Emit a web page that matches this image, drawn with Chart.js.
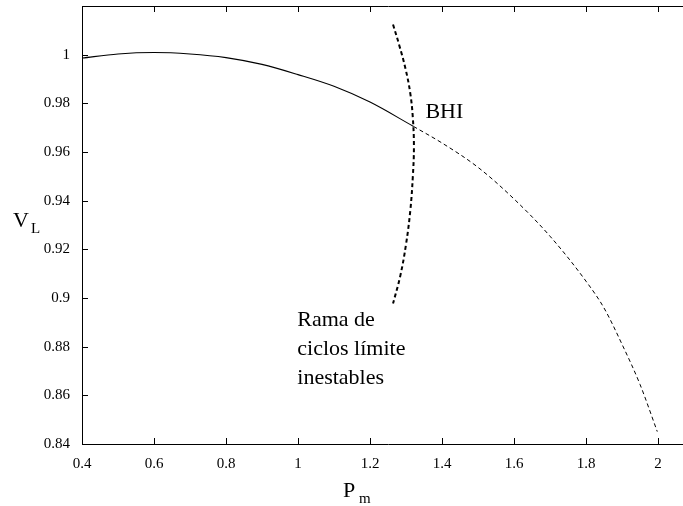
<!DOCTYPE html>
<html>
<head>
<meta charset="utf-8">
<script src="https://cdn.jsdelivr.net/npm/chart.js@4"></script>
<style>
  html, body { margin: 0; padding: 0; background: #fff; overflow: hidden; }
  #wrap { width: 683px; height: 506px; overflow: hidden; }
</style>
</head>
<body>
<div id="wrap"><canvas id="myChart" width="700" height="506"></canvas></div>
<script>
// stable branch (solid), up to the Hopf point
const stableP = [0.4, 0.5, 0.6, 0.7, 0.8, 0.9, 1.0, 1.1, 1.2, 1.321];
const stableV = [0.9986, 1.0003, 1.0009, 1.0003, 0.9988, 0.996, 0.9918, 0.987, 0.9805, 0.9705];
// unstable branch (thin dashed) after BHI
const unstableP = [1.321, 1.4, 1.5, 1.6, 1.7, 1.8, 1.85, 1.9, 1.95, 1.998];
const unstableV = [0.9705, 0.9637, 0.9537, 0.9407, 0.9254, 0.9069, 0.8959, 0.881, 0.8645, 0.8451];
// unstable limit cycle branch (thick dashed)
const cycleP = [1.264, 1.281, 1.299, 1.312, 1.319, 1.322, 1.319, 1.312, 1.300, 1.284, 1.264];
const cycleV = [1.0124, 1.004, 0.994, 0.984, 0.974, 0.962, 0.950, 0.936, 0.922, 0.909, 0.8977];

const xTicks = [0.4, 0.6, 0.8, 1, 1.2, 1.4, 1.6, 1.8, 2];
const yTicks = [0.84, 0.86, 0.88, 0.9, 0.92, 0.94, 0.96, 0.98, 1];

const FONT = '"Liberation Serif", "Times New Roman", serif';

function pts(xs, ys) {
    return xs.map((x, i) => ({ x: x, y: ys[i] }));
}

const frame = {
    id: 'frame',
    afterDraw(chart) {
        const ctx = chart.ctx;
        const a = chart.chartArea;
        const xs = chart.scales.x, ys = chart.scales.y;
        ctx.save();
        ctx.strokeStyle = '#000';
        ctx.lineWidth = 1;
        ctx.beginPath();
        ctx.rect(Math.round(a.left) + 0.5, Math.round(a.top) + 0.5,
                 Math.round(a.right - a.left), Math.round(a.bottom - a.top));
        // inward ticks on all sides
        xTicks.forEach(v => {
            const px = Math.round(xs.getPixelForValue(v)) + 0.5;
            ctx.moveTo(px, a.bottom); ctx.lineTo(px, a.bottom - 6);
            ctx.moveTo(px, a.top); ctx.lineTo(px, a.top + 6);
        });
        yTicks.forEach(v => {
            const py = Math.round(ys.getPixelForValue(v)) + 0.5;
            ctx.moveTo(a.left, py); ctx.lineTo(a.left + 6, py);
            ctx.moveTo(a.right, py); ctx.lineTo(a.right - 6, py);
        });
        ctx.stroke();

        // labels
        ctx.fillStyle = '#000';
        ctx.textBaseline = 'alphabetic';
        ctx.textAlign = 'left';
        ctx.font = '22px ' + FONT;
        ctx.fillText('BHI', xs.getPixelForValue(1.354), ys.getPixelForValue(0.974));
        const lx = xs.getPixelForValue(0.998);
        const ly = ys.getPixelForValue(0.8885);
        ctx.fillText('Rama de', lx, ly);
        ctx.fillText('ciclos límite', lx, ly + 29);
        ctx.fillText('inestables', lx, ly + 58);

        // axis titles with subscripts
        ctx.font = '22px ' + FONT;
        ctx.fillText('V', 13, 227);
        ctx.fillText('P', 343, 497);
        ctx.font = '15px ' + FONT;
        ctx.fillText('L', 31, 233);
        ctx.fillText('m', 359, 503);
        ctx.restore();
    }
};

function noPad(s) {
    s.paddingTop = 0; s.paddingBottom = 0;
    s.paddingLeft = 0; s.paddingRight = 0;
}

const ch = new Chart(document.getElementById('myChart').getContext('2d'), {
    type: 'scatter',
    data: {
        datasets: [{
            data: pts(stableP, stableV),
            showLine: true,
            borderColor: '#000',
            borderWidth: 1.1,
            pointRadius: 0,
            cubicInterpolationMode: 'monotone'
        }, {
            data: pts(unstableP, unstableV),
            showLine: true,
            borderColor: '#000',
            borderWidth: 1,
            borderDash: [4, 3],
            pointRadius: 0,
            cubicInterpolationMode: 'monotone'
        }, {
            data: pts(cycleP, cycleV),
            showLine: true,
            borderColor: '#000',
            borderWidth: 2,
            borderDash: [4, 3],
            pointRadius: 0,
            tension: 0.4
        }]
    },
    options: {
        responsive: false,
        animation: false,
        events: [],
        layout: { padding: { left: 0, top: 6, right: 6, bottom: 0 } },
        plugins: { legend: { display: false }, tooltip: { enabled: false } },
        scales: {
            x: {
                type: 'linear',
                min: 0.4,
                max: 2.1,
                afterFit: s => { s.height = 62; noPad(s); },
                afterBuildTicks: s => { s.ticks = xTicks.map(v => ({ value: v })); },
                grid: { display: false, drawTicks: false },
                border: { display: false },
                ticks: {
                    padding: 11,
                    color: '#000',
                    font: { family: FONT, size: 15 },
                    callback: v => String(Number(v.toFixed(2)))
                }
            },
            y: {
                type: 'linear',
                min: 0.84,
                max: 1.02,
                afterFit: s => { s.width = 82; noPad(s); },
                afterBuildTicks: s => { s.ticks = yTicks.map(v => ({ value: v })); },
                grid: { display: false, drawTicks: false },
                border: { display: false },
                ticks: {
                    padding: 12,
                    color: '#000',
                    font: { family: FONT, size: 15 },
                    callback: v => String(Number(v.toFixed(2)))
                }
            }
        }
    },
    plugins: [frame]
});
</script>
</body>
</html>
